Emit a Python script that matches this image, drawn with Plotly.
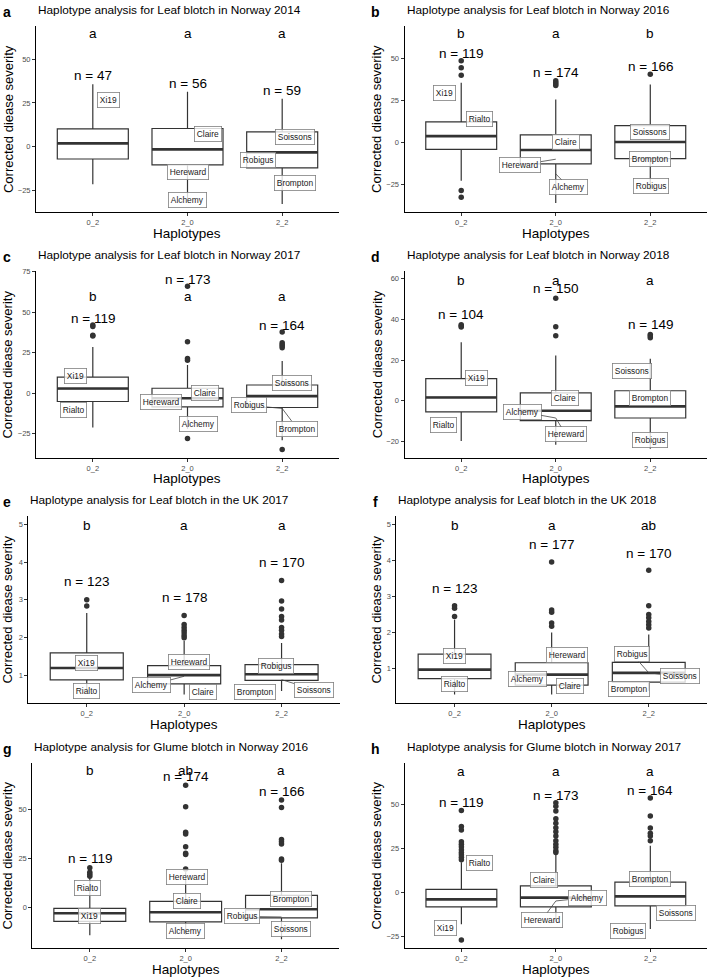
import plotly.graph_objects as go

HAPLOTYPES = ["0_2", "2_0", "2_2"]
PANEL_TAGS = ["a", "b", "c", "d", "e", "f", "g", "h"]
TITLES = [
    "Haplotype analysis for Leaf blotch in Norway 2014",
    "Haplotype analysis for Leaf blotch in Norway 2016",
    "Haplotype analysis for Leaf blotch in Norway 2017",
    "Haplotype analysis for Leaf blotch in Norway 2018",
    "Haplotype analysis for Leaf blotch in the UK 2017",
    "Haplotype analysis for Leaf blotch in the UK 2018",
    "Haplotype analysis for Glume blotch in Norway 2016",
    "Haplotype analysis for Glume blotch in Norway 2017",
]
Y_TICKS = [
    [-25, 0, 25, 50], [-25, 0, 25, 50], [-25, 0, 25, 50, 75], [-20, 0, 20, 40, 60],
    [1, 2, 3, 4, 5], [1, 2, 3, 4, 5], [0, 25, 50], [-25, 0, 25, 50],
]
Y_RANGES = [
    [-37.3, 68.9], [-41.4, 69.3], [-39.9, 75.4], [-28.1, 64.0],
    [0.27, 5.22], [0.04, 5.23], [-20.9, 73.7], [-31.7, 74.0],
]

Q1 = [[-7.0, -10.4, -12.1], [-4.1, -12.8, -9.6], [-5.1, -8.4, -8.8], [-5.5, -9.8, -8.5],
      [0.886, 0.78, 0.87], [0.72, 0.54, 0.62], [-7.1, -7.4, -5.4], [-8.1, -8.1, -7.5]]
MEDIAN = [[1.9, -1.5, -3.2], [3.7, -4.5, 0.2], [2.9, -3.1, -1.8], [1.6, -4.9, -2.8],
          [1.20, 1.01, 1.035], [0.97, 0.83, 0.88], [-3.0, -2.5, -1.0], [-3.8, -2.8, -2.1]]
Q3 = [[10.2, 10.4, 8.5], [12.2, 4.5, 10.0], [9.9, 3.1, 5.1], [10.9, 3.9, 4.9],
      [1.60, 1.26, 1.29], [1.40, 1.16, 1.17], [-0.5, 3.0, 6.1], [1.9, 3.9, 6.0]]
WHISKER_LOW = [[-21.4, -30.0, -32.6], [-22.8, -36.0, -28.0], [-21.1, -22.0, -29.0], [-19.8, -21.6, -23.6],
               [0.59, 0.5, 0.59], [0.28, 0.28, 0.38], [-14.2, -14.0, -16.2], [-18.0, -16.5, -20.7]]
WHISKER_HIGH = [[35.6, 31.3, 27.3], [35.4, 25.4, 34.3], [28.5, 17.5, 19.9], [28.8, 22.3, 20.7],
                [2.65, 1.92, 1.86], [2.35, 2.0, 1.94], [14.9, 17.9, 22.5], [17.3, 22.0, 26.7]]
OUTLIERS = [
    [[], [], []],
    [[48.4, 44.3, 39.8, -28.5, -32.5], [36.6, 35.6, 34.6, 33.8], [40.4]],
    [[42.1, 41.2, 35.9, 35.3], [66.1, 31.8, 21.5, 20.4, -27.9], [37.8, 31.2, 30.1, 29.2, 28.1, -34.7]],
    [[37.4, 36.8, 36.2], [50.4, 36.4, 32.0], [32.6, 31.8, 31.0]],
    [[3.0, 2.84], [2.59, 2.35, 2.27, 2.2, 2.13, 2.06, 2.0],
     [3.51, 2.97, 2.76, 2.56, 2.47, 2.27, 2.20, 2.10, 2.03]],
    [[2.74, 2.67, 2.44], [3.95, 2.62, 2.56, 2.26, 2.17], [3.72, 2.74, 2.50, 2.41, 2.30, 2.21, 2.12]],
    [[20.1, 17.9, 16.9, 15.8], [62.2, 51.2, 38.2, 37.3, 30.9, 27.5, 26.9, 19.5],
     [54.6, 50.8, 34.5, 33.4, 32.3, 24.6, 24.0]],
    [[46.8, 37.6, 35.7, 28.9, 27.6, 26.1, 24.4, 22.9, 21.6, 20.1, 18.8, -26.9],
     [51.1, 49.2, 46.4, 42.1, 39.5, 37.0, 34.6, 32.3, 29.5, 27.6, 25.8, 23.9, 22.9],
     [53.8, 43.6, 36.8, 33.8, 32.3, 29.5]],
]
N_COUNTS = [[47, 56, 59], [119, 174, 166], [119, 173, 164], [104, 150, 149],
            [123, 178, 170], [123, 177, 170], [119, 174, 166], [119, 173, 164]]
SIG_LETTERS = [["a", "a", "a"], ["b", "a", "b"], ["b", "a", "a"], ["b", "a", "a"],
               ["b", "a", "a"], ["b", "a", "ab"], ["b", "ab", "a"], ["a", "a", "a"]]
LETTER_Y = [64.4, 64.4, 59.5, 59.3, 4.97, 4.96, 69.8, 69.0]

# cultivar labels: (name, x position, y value)
CULTIVAR_LABELS = [
    [("Xi19", 0.17, 26.5), ("Claire", 1.22, 7.0), ("Hereward", 1.0, -14.6), ("Alchemy", 1.0, -30.3),
     ("Soissons", 2.13, 5.5), ("Robigus", 1.74, -7.4), ("Brompton", 2.13, -20.5)],
    [("Xi19", -0.175, 29.3), ("Rialto", 0.19, 14.0), ("Claire", 1.105, 0.0), ("Hereward", 0.625, -13.4),
     ("Alchemy", 1.14, -26.6), ("Soissons", 2.0, 6.3), ("Brompton", 2.0, -9.6), ("Robigus", 2.01, -25.6)],
    [("Xi19", -0.18, 10.5), ("Rialto", -0.2, -10.3), ("Hereward", 0.72, -5.1), ("Claire", 1.19, 0.2),
     ("Alchemy", 1.12, -19.1), ("Soissons", 2.1, 6.4), ("Robigus", 1.65, -7.4), ("Brompton", 2.16, -21.8)],
    [("Xi19", 0.16, 11.4), ("Rialto", -0.19, -11.9), ("Claire", 1.1, 1.3), ("Alchemy", 0.645, -5.5),
     ("Hereward", 1.105, -16.6), ("Soissons", 1.81, 14.6), ("Brompton", 2.0, 1.5), ("Robigus", 2.0, -19.2)],
    [("Xi19", 0.0, 1.32), ("Rialto", 0.0, 0.58), ("Hereward", 1.05, 1.36), ("Alchemy", 0.665, 0.75),
     ("Claire", 1.19, 0.56), ("Robigus", 1.94, 1.25), ("Brompton", 1.725, 0.56), ("Soissons", 2.33, 0.63)],
    [("Xi19", 0.0, 1.34), ("Rialto", 0.0, 0.58), ("Hereward", 1.16, 1.37), ("Alchemy", 0.75, 0.72),
     ("Claire", 1.19, 0.51), ("Robigus", 1.83, 1.40), ("Soissons", 2.32, 0.78), ("Brompton", 1.8, 0.42)],
    [("Rialto", -0.02, 9.8), ("Xi19", 0.0, -4.2), ("Hereward", 1.01, 15.4), ("Claire", 1.01, 3.0),
     ("Alchemy", 1.0, -11.8), ("Brompton", 2.1, 4.4), ("Robigus", 1.59, -4.6), ("Soissons", 2.1, -11.1)],
    [("Rialto", 0.19, 16.7), ("Xi19", -0.17, -20.3), ("Claire", 0.87, 7.5), ("Alchemy", 1.33, -2.8),
     ("Hereward", 0.85, -15.6), ("Brompton", 2.0, 7.9), ("Soissons", 2.27, -11.8), ("Robigus", 1.76, -22.0)],
]
# cultivar data points for labels that have a connecting segment
SEGMENT_POINTS = {
    (1, "Hereward"): (1.0, -10.0), (1, "Alchemy"): (1.0, -18.7),
    (2, "Robigus"): (2.0, -9.4), (2, "Brompton"): (2.0, -9.4),
    (3, "Alchemy"): (1.0, -8.5), (3, "Hereward"): (1.0, -8.5),
    (4, "Alchemy"): (1.0, 0.98), (4, "Soissons"): (2.0, 0.89),
    (5, "Robigus"): (2.0, 0.88), (5, "Soissons"): (2.0, 0.88),
    (6, "Robigus"): (2.0, -4.9),
    (7, "Hereward"): (1.0, -4.7), (7, "Alchemy"): (1.0, -4.7),
}

# ---------------- layout constants ----------------
W, H = 709, 978
PANEL_PX = [  # left, right, top, bottom (pixels)
    (36, 339, 22, 209), (404.5, 707, 21.7, 209),
    (36, 339, 268.3, 455.7), (404.5, 707, 267.7, 455.7),
    (28.3, 340, 514, 702), (396.3, 707, 514, 702),
    (32.3, 339, 761.7, 948.3), (404.7, 707, 761.7, 948.3),
]
N_OFFSET = [5.0, 4.6, 4.3, 4.9, 0.48, 0.48, 4.6, 4.3]
FONT = "Liberation Sans, Arial, Helvetica, sans-serif"
DARK = "#333333"
BOX_W = 0.75

fig = go.Figure()
annotations = []
layout = {}


def px_x(p):
    return p / W


def px_y(p):
    return 1 - p / H


for k in range(8):
    sfx = "" if k == 0 else str(k + 1)
    xref, yref = "x" + sfx, "y" + sfx
    l, r, t, b = PANEL_PX[k]
    xs = [0, 1, 2]

    fig.add_trace(go.Box(
        x=xs, q1=Q1[k], median=MEDIAN[k], q3=Q3[k],
        lowerfence=WHISKER_LOW[k], upperfence=WHISKER_HIGH[k],
        width=BOX_W, whiskerwidth=0, boxpoints=False,
        fillcolor="white", line=dict(color=DARK, width=1.2),
        xaxis=xref, yaxis=yref, showlegend=False, hoverinfo="skip"))

    mx, my = [], []
    for i in xs:
        mx += [i - BOX_W / 2, i + BOX_W / 2, None]
        my += [MEDIAN[k][i], MEDIAN[k][i], None]
    fig.add_trace(go.Scatter(x=mx, y=my, mode="lines", line=dict(color=DARK, width=2.6),
                             xaxis=xref, yaxis=yref, showlegend=False, hoverinfo="skip"))

    ox, oy = [], []
    for i in xs:
        ox += [i] * len(OUTLIERS[k][i])
        oy += OUTLIERS[k][i]
    fig.add_trace(go.Scatter(x=ox, y=oy, mode="markers",
                             marker=dict(color=DARK, size=5.5, line=dict(width=0)),
                             xaxis=xref, yaxis=yref, showlegend=False, hoverinfo="skip"))

    layout["xaxis" + sfx] = dict(
        domain=[px_x(l), px_x(r)], anchor=yref, range=[-0.6, 2.6],
        tickvals=xs, ticktext=HAPLOTYPES, showline=True, linecolor="black", linewidth=1,
        ticks="outside", ticklen=3, tickcolor=DARK, tickfont=dict(size=7.5, color="#4d4d4d"),
        showgrid=False, zeroline=False, fixedrange=True)
    layout["yaxis" + sfx] = dict(
        domain=[px_y(b), px_y(t)], anchor=xref, range=Y_RANGES[k],
        tickvals=Y_TICKS[k], showline=True, linecolor="black", linewidth=1,
        ticks="outside", ticklen=3, tickcolor=DARK, tickfont=dict(size=7.5, color="#4d4d4d"),
        showgrid=False, zeroline=False, fixedrange=True)

    # title, panel tag, axis titles
    annotations.append(dict(text=TITLES[k], x=px_x(l), y=px_y(t - 16), xref="paper", yref="paper",
                            xanchor="left", yanchor="middle", showarrow=False,
                            font=dict(size=11.8, color="black", family=FONT)))
    tag_x = 7 if l < 200 else 376
    annotations.append(dict(text="<b>" + PANEL_TAGS[k] + "</b>", x=px_x(tag_x), y=px_y(t - 14),
                            xref="paper", yref="paper", xanchor="center", yanchor="middle",
                            showarrow=False, font=dict(size=14, color="black", family=FONT)))
    annotations.append(dict(text="Corrected diease severity", x=px_x(tag_x + 1), y=px_y((t + b) / 2),
                            xref="paper", yref="paper", textangle=-90, xanchor="center",
                            yanchor="middle", showarrow=False,
                            font=dict(size=13, color="black", family=FONT)))
    annotations.append(dict(text="Haplotypes", x=px_x((l + r) / 2), y=px_y(b + 21),
                            xref="paper", yref="paper", xanchor="center", yanchor="middle",
                            showarrow=False, font=dict(size=13.5, color="black", family=FONT)))

    for i in xs:
        top = max([WHISKER_HIGH[k][i]] + OUTLIERS[k][i])
        annotations.append(dict(text="n = %d" % N_COUNTS[k][i], x=i, y=top + N_OFFSET[k],
                                xref=xref, yref=yref, showarrow=False, yanchor="middle",
                                font=dict(size=13.5, color="black", family=FONT)))
        annotations.append(dict(text=SIG_LETTERS[k][i], x=i, y=LETTER_Y[k],
                                xref=xref, yref=yref, showarrow=False, yanchor="middle",
                                font=dict(size=13.5, color="black", family=FONT)))

    for name, lx, ly in CULTIVAR_LABELS[k]:
        ann = dict(text=name, xref=xref, yref=yref, bgcolor="rgba(255,255,255,0.8)",
                   bordercolor="#808080", borderwidth=0.8, borderpad=2,
                   font=dict(size=8.4, color="#222222", family=FONT))
        pt = SEGMENT_POINTS.get((k, name))
        if pt is None:
            ann.update(x=lx, y=ly, showarrow=False)
        else:
            ann.update(x=pt[0], y=pt[1], ax=lx, ay=ly, axref=xref, ayref=yref,
                       showarrow=True, arrowhead=0, arrowwidth=0.8, arrowcolor="#444444",
                       standoff=0)
        annotations.append(ann)

fig.update_layout(
    width=W, height=H, margin=dict(l=0, r=0, t=0, b=0),
    paper_bgcolor="white", plot_bgcolor="white",
    font=dict(family=FONT, color="black"),
    annotations=annotations, **layout)

fig.write_html("out.html", config={"displayModeBar": False},
               post_script="document.body.style.margin='0';document.body.style.overflow='hidden';")
